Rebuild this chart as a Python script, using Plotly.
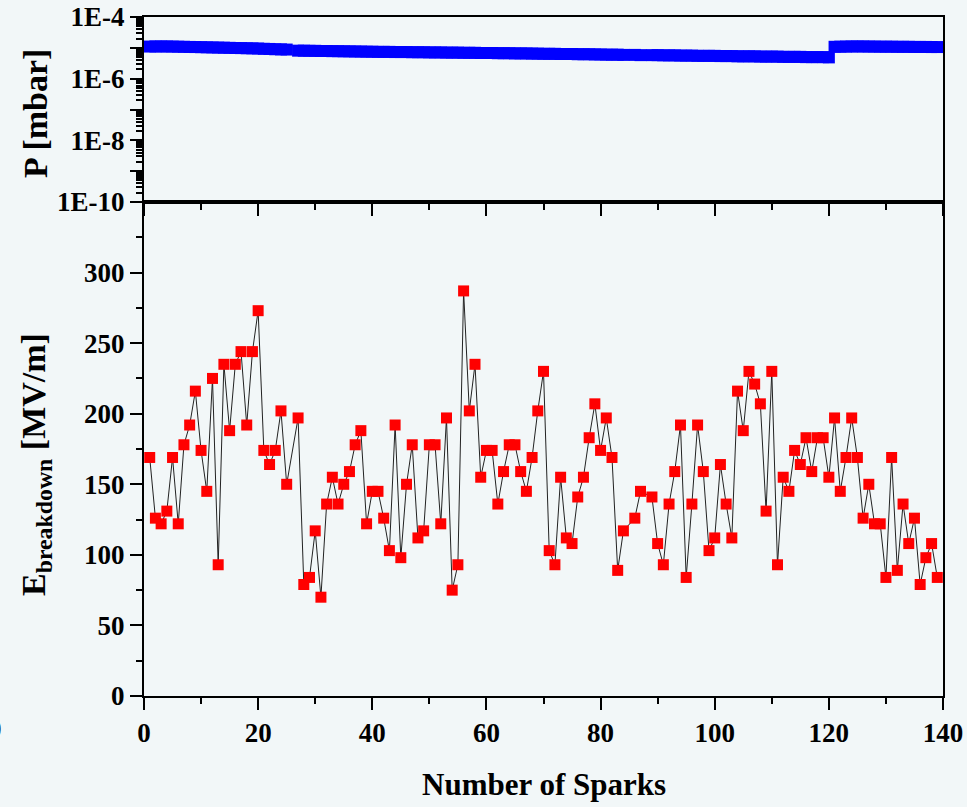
import plotly.graph_objects as go

# ---------------- data ----------------
sparks = [1, 2, 3, 4, 5, 6, 7, 8, 9, 10, 11, 12, 13, 14, 15, 16, 17, 18, 19, 20,
          21, 22, 23, 24, 25, 27, 28, 29, 30, 31, 32, 33, 34, 35, 36, 37, 38, 39, 40,
          41, 42, 43, 44, 45, 46, 47, 48, 49, 50, 51, 52, 53, 54, 55, 56, 57, 58, 59, 60,
          61, 62, 63, 64, 65, 66, 67, 68, 69, 70, 71, 72, 73, 74, 75, 76, 77, 78, 79, 80,
          81, 82, 83, 84, 86, 87, 89, 90, 91, 92, 93, 94, 95, 96, 97, 98, 99, 100,
          101, 102, 103, 104, 105, 106, 107, 108, 109, 110, 111, 112, 113, 114, 115, 116,
          117, 118, 119, 120, 121, 122, 123, 124, 125, 126, 127, 128, 129, 130, 131, 132,
          133, 134, 135, 136, 137, 138, 139]

e_breakdown = [169, 126, 122, 131, 169, 122, 178, 192, 216, 174, 145, 225, 93, 235, 188, 235, 244, 192, 244, 273,
               174, 164, 174, 202, 150, 197, 79, 84, 117, 70, 136, 155, 136, 150, 159, 178, 188, 122, 145,
               145, 126, 103, 192, 98, 150, 178, 112, 117, 178, 178, 122, 197, 75, 93, 287, 202, 235, 155, 174,
               174, 136, 159, 178, 178, 159, 145, 169, 202, 230, 103, 93, 155, 112, 108, 141, 155, 183, 207, 174,
               197, 169, 89, 117, 126, 145, 141, 108, 93, 136, 159, 192, 84, 136, 192, 159, 103, 112,
               164, 136, 112, 216, 188, 230, 221, 207, 131, 230, 93, 155, 145, 174, 164, 183,
               159, 183, 183, 155, 197, 145, 169, 197, 169, 126, 150, 122, 122, 84, 169, 89,
               136, 108, 126, 79, 98, 108, 84]

# pressure in units of 1e-6 mbar
pressure_e6 = [11.0, 11.1, 11.1, 11.1, 11.0, 10.9, 10.8, 10.7, 10.6, 10.5, 10.4, 10.3, 10.2, 10.1, 10.0,
               9.9, 9.8, 9.7, 9.6, 9.5, 9.3, 9.2, 9.0, 8.9, 8.8,
               8.1, 8.1, 8.0, 8.0, 7.9, 7.9, 7.8, 7.8, 7.7, 7.7, 7.6, 7.6, 7.5, 7.5,
               7.4, 7.4, 7.4, 7.3, 7.3, 7.3, 7.2, 7.2, 7.2, 7.1, 7.1, 7.1, 7.0, 7.0, 7.0, 6.9, 6.9, 6.9, 6.8, 6.8,
               6.8, 6.7, 6.7, 6.7, 6.6, 6.6, 6.6, 6.5, 6.5, 6.4, 6.4, 6.4, 6.3, 6.3, 6.3, 6.2, 6.2, 6.2, 6.1, 6.1,
               6.0, 6.0, 6.0, 5.9,
               5.9, 5.8,
               5.8, 5.8, 5.7, 5.7, 5.7, 5.6, 5.6, 5.6, 5.5, 5.5, 5.5, 5.5, 5.4, 5.4, 5.4, 5.3,
               5.3, 5.3, 5.3, 5.2, 5.2, 5.2, 5.2, 5.1, 5.1, 5.1, 5.1, 5.0, 5.0, 5.0, 5.0, 4.9,
               10.8, 10.9, 11.0, 11.1, 11.1, 11.1, 11.0, 11.0, 10.9, 10.9, 10.9, 10.8, 10.8, 10.8,
               10.7, 10.7, 10.7, 10.6, 10.6]
pressure = [p * 1e-6 for p in pressure_e6]

e_ticks = [0, 50, 100, 150, 200, 250, 300]
e_minor = [25, 75, 125, 175, 225, 275, 325]
p_ticks = [1e-10, 1e-9, 1e-8, 1e-7, 1e-6, 1e-5, 1e-4]
p_ticktext = ["1E-10", "", "1E-8", "", "1E-6", "", "1E-4"]
p_minor = [k * 10.0 ** n for n in range(-10, -4) for k in range(2, 10)]

# ---------------- figure ----------------
W, H = 967, 807
BG = "#f2f7f8"
FONT = "Liberation Serif"
tickfont = dict(family=FONT, size=27, color="black", weight="bold")

fig = go.Figure()
fig.add_trace(go.Scatter(
    x=sparks, y=pressure, mode="markers", xaxis="x2", yaxis="y2",
    marker=dict(symbol="square", size=12, color="#0000ff", line=dict(width=0)),
    showlegend=False))
fig.add_trace(go.Scatter(
    x=sparks, y=e_breakdown, mode="lines+markers", xaxis="x", yaxis="y",
    line=dict(color="#222222", width=1),
    marker=dict(symbol="square", size=11, color="#ff0000", line=dict(width=0)),
    showlegend=False))

xd = [144 / W, 943 / W]
y_split = 1 - 202 / H
common_x = dict(range=[0, 140], showgrid=False, zeroline=False, showline=True,
                linecolor="black", linewidth=2, mirror=True, automargin=False,
                tickmode="linear", tick0=0, dtick=20, ticks="outside", ticklen=12,
                tickwidth=2, tickcolor="black",
                minor=dict(tickmode="linear", tick0=0, dtick=10, ticks="outside",
                           ticklen=6, tickwidth=2, tickcolor="black"))

fig.update_layout(
    width=W, height=H,
    margin=dict(l=0, r=0, t=0, b=0, autoexpand=False),
    paper_bgcolor=BG, plot_bgcolor=BG,
    xaxis=dict(domain=xd, anchor="y", tickfont=tickfont, **common_x),
    xaxis2=dict(domain=xd, anchor="y2", matches="x", showticklabels=False, **common_x),
    yaxis=dict(domain=[1 - 696 / H, y_split], anchor="x", range=[0, 350],
               showgrid=False, zeroline=False, showline=True, linecolor="black",
               linewidth=2, mirror=True, automargin=False, tickmode="array", tickvals=e_ticks,
               ticks="outside", ticklen=12, tickwidth=2, tickcolor="black",
               tickfont=tickfont,
               minor=dict(tickmode="array", tickvals=e_minor, ticks="outside",
                          ticklen=6, tickwidth=2, tickcolor="black")),
    yaxis2=dict(domain=[y_split, 1 - 17 / H], anchor="x2", type="log", range=[-10, -4],
                showgrid=False, zeroline=False, showline=True, linecolor="black",
                linewidth=2, mirror=True, automargin=False, tickmode="array", tickvals=p_ticks,
                ticktext=p_ticktext, ticks="outside", ticklen=12, tickwidth=2,
                tickcolor="black", tickfont=tickfont,
                minor=dict(tickmode="array", tickvals=p_minor, ticks="outside",
                           ticklen=6, tickwidth=1.5, tickcolor="black")),
)

title_font = dict(family=FONT, size=34, color="black", weight="bold")
fig.add_annotation(text="Number of Sparks", xref="paper", yref="paper",
                   x=544 / W, y=1 - 784 / H, xanchor="center", yanchor="middle",
                   showarrow=False, font=dict(family=FONT, size=31, color="black", weight="bold"))
fig.add_annotation(text="E<sub>breakdown</sub> [MV/m]", xref="paper", yref="paper",
                   x=36 / W, y=1 - 465 / H, xanchor="center", yanchor="middle",
                   textangle=-90, showarrow=False, font=title_font)
fig.add_annotation(text="P [mbar]", xref="paper", yref="paper",
                   x=35 / W, y=1 - 114 / H, xanchor="center", yanchor="middle",
                   textangle=-90, showarrow=False, font=title_font)
fig.add_annotation(text="0", xref="paper", yref="paper",
                   x=4 / W, y=1 - 729 / H, xanchor="right", yanchor="middle",
                   showarrow=False, font=tickfont)

fig.write_html("out.html")
